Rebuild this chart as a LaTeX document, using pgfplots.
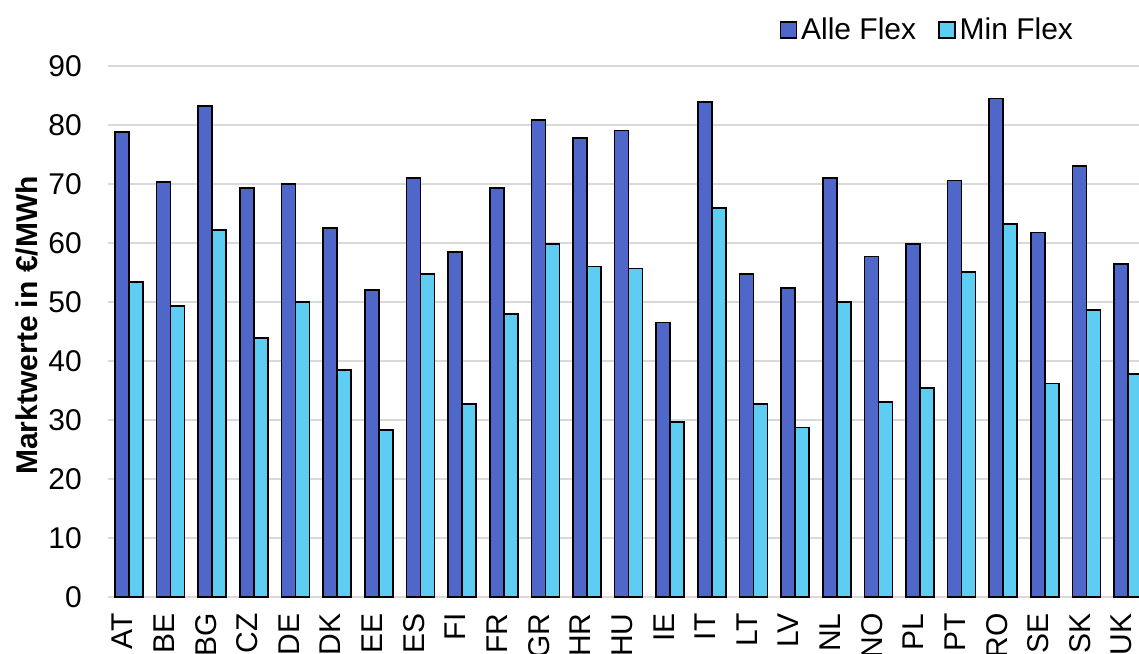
\documentclass[border=0pt]{standalone}
\usepackage{fontspec}
\setmainfont{Liberation Sans}
\usepackage{pgfplots}
\pgfplotsset{compat=1.18}
\definecolor{alle}{HTML}{4F67C8}
\definecolor{minf}{HTML}{5DCDF1}
\definecolor{gridc}{HTML}{D9D9D9}
\pgfplotstableread{
x alle minf
0 78.8 53.4
1 70.3 49.3
2 83.2 62.2
3 69.3 43.9
4 70.0 50.0
5 62.5 38.5
6 52.0 28.3
7 71.0 54.7
8 58.5 32.7
9 69.3 48.0
10 80.8 59.8
11 77.8 56.0
12 79.1 55.7
13 46.5 29.7
14 83.9 65.9
15 54.7 32.7
16 52.4 28.7
17 71.0 50.0
18 57.7 33.1
19 59.8 35.4
20 70.6 55.1
21 84.5 63.2
22 61.8 36.2
23 73.0 48.6
24 56.4 37.8
}\datatable
\begin{document}
\begin{tikzpicture}
\useasboundingbox (0,0) rectangle (569.5pt,326.5pt);
\clip (0,0) rectangle (569.5pt,326.5pt);
\begin{axis}[
  at={(54.1pt,28pt)}, anchor=south west,
  scale only axis, width=520.4pt, height=265.5pt,
  xmin=-0.5, xmax=24.5, ymin=0, ymax=90,
  ybar=0pt, bar width=7pt,
  xtick={0,...,24},
  xticklabels={AT,BE,BG,CZ,DE,DK,EE,ES,FI,FR,GR,HR,HU,IE,IT,LT,LV,NL,NO,PL,PT,RO,SE,SK,UK},
  ytick={0,10,...,90},
  ymajorgrids, grid style={gridc, line width=0.75pt},
  axis x line*=bottom, axis y line*=left,
  x axis line style={gridc, line width=0.75pt},
  y axis line style={draw=none},
  major tick length=0pt,
  tick label style={font=\fontsize{15}{17}\selectfont},
  /pgf/number format/assume math mode=true,
  xticklabel style={xshift=-3.25pt, yshift=-8pt, rotate=90, anchor=east, inner sep=0pt},
  yticklabel style={anchor=east, inner sep=0pt, xshift=-13pt},
  ylabel={\bfseries Marktwerte in €/MWh},
  every axis y label/.style={at={(rel axis cs:0,0.5)}, xshift=-40.6pt, yshift=3pt, rotate=90, anchor=center, font=\fontsize{15}{17}\selectfont},
  legend columns=2,
  legend style={at={(0.937,1.068)}, anchor=east, draw=none, fill=none,
    font=\fontsize{15}{17}\selectfont,
    /tikz/every even column/.append style={column sep=9pt}},
  legend image code/.code={\draw[#1, line width=0.75pt] (0pt,-4pt) rectangle (8pt,4pt);},
]
\addplot[fill=alle, draw=black, line width=0.8pt] table[x=x, y=alle] {\datatable};
\addplot[fill=minf, draw=black, line width=0.8pt] table[x=x, y=minf] {\datatable};
\legend{Alle Flex, Min Flex}
\end{axis}
\end{tikzpicture}
\end{document}
